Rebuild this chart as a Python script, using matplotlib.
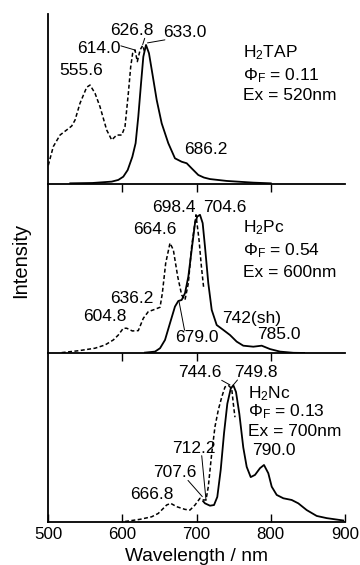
import matplotlib
matplotlib.use('Agg')
import matplotlib.pyplot as plt

plt.rcParams['font.family'] = ['Liberation Sans', 'DejaVu Sans']
plt.rcParams['mathtext.fontset'] = 'custom'
plt.rcParams['mathtext.rm'] = 'Liberation Sans'
plt.rcParams['mathtext.it'] = 'Liberation Sans:italic'

# --- data (wavelength in nm, intensity in arbitrary units) ---
tap_abs_wl = [500.4, 507.1, 516.2, 525.2, 531.9, 536.4, 543.1, 552.1, 556.6, 563.3, 570, 579,
              585.8, 592.5, 599.3, 603.7, 608.2, 611.4, 614, 617.2, 620.3, 624, 627.5, 630]
tap_abs_int = [0.11, 0.22, 0.288, 0.318, 0.341, 0.376, 0.475, 0.569, 0.582, 0.534, 0.455, 0.318,
               0.259, 0.288, 0.288, 0.337, 0.534, 0.69, 0.769, 0.788, 0.72, 0.788, 0.815, 0.78]
tap_em_wl = [530, 560, 585.8, 594.7, 601.4, 607.3, 613.6, 618, 621.6, 625.3, 628.4, 632, 636,
             640.5, 646.4, 653.1, 662, 671, 680, 686.8, 693.5, 702.4, 710, 718.2, 740.7, 776.5, 800]
tap_em_int = [0.004, 0.006, 0.014, 0.024, 0.043, 0.082, 0.16, 0.24, 0.396, 0.592, 0.749, 0.818,
              0.769, 0.651, 0.494, 0.357, 0.24, 0.151, 0.131, 0.122, 0.092, 0.053, 0.038, 0.029,
              0.018, 0.008, 0.004]

pc_abs_wl = [518.4, 540.8, 563.3, 576.8, 588, 594.7, 601.4, 606, 613.6, 621.6, 628.4, 635.1,
             644.1, 650.9, 654, 658.5, 664.3, 668.8, 674.7, 680, 684.5, 689, 693.5, 699.3,
             703.4, 706.6, 709.7]
pc_abs_int = [0.004, 0.015, 0.03, 0.049, 0.079, 0.108, 0.148, 0.148, 0.132, 0.134, 0.207, 0.246,
              0.26, 0.272, 0.355, 0.532, 0.651, 0.611, 0.453, 0.345, 0.315, 0.414, 0.631, 0.818,
              0.67, 0.512, 0.385]
pc_em_wl = [630.6, 644.1, 650.9, 657.6, 664.3, 671, 675.5, 680, 684.5, 689, 693.5, 698, 701.1,
            704.7, 708.3, 711.4, 715.9, 720.5, 727.2, 736.1, 745.1, 754.1, 763, 776.5, 787.8,
            799, 812.5, 830.4, 845]
pc_em_int = [0.004, 0.01, 0.03, 0.079, 0.178, 0.276, 0.309, 0.315, 0.355, 0.453, 0.611, 0.769,
             0.808, 0.818, 0.769, 0.631, 0.414, 0.256, 0.167, 0.138, 0.108, 0.069, 0.045, 0.039,
             0.045, 0.025, 0.01, 0.003, 0.002]

nc_abs_wl = [603.7, 624, 639.6, 648.5, 655.3, 659.8, 665.2, 673.3, 684.5, 691.2, 698, 704.7,
             709.2, 712.8, 715.9, 720.5, 724.9, 729.4, 734, 738.4, 742.8, 747.4, 749.6, 751.8]
nc_abs_int = [0.0, 0.013, 0.028, 0.048, 0.078, 0.098, 0.108, 0.088, 0.072, 0.068, 0.098, 0.138,
              0.128, 0.128, 0.207, 0.405, 0.564, 0.664, 0.74, 0.8, 0.81, 0.79, 0.70, 0.62]
nc_em_wl = [709, 711.4, 718.2, 723.6, 728, 732.6, 737.1, 741.5, 746.1, 749.6, 753.2, 757.7, 763,
            767.6, 773, 778.8, 785.5, 790.9, 796.7, 801.3, 808, 817, 828.2, 837.1, 848.4, 861.9,
            875.4, 897.7]
nc_em_int = [0.12, 0.108, 0.094, 0.098, 0.146, 0.307, 0.526, 0.70, 0.79, 0.81, 0.77, 0.64, 0.44,
             0.325, 0.264, 0.277, 0.317, 0.336, 0.287, 0.207, 0.158, 0.138, 0.128, 0.108, 0.068,
             0.033, 0.02, 0.006]

# peak labels: (text, label x, label y, leader target or None, leader start on the text box)
tap_labels = [('555.6', 515.2, 0.665, None, None),
              ('614.0', 539.5, 0.795, (617.2, 0.788), (1.0, 0.7)),
              ('626.8', 583.5, 0.901, (627.5, 0.82), (0.8, 0.0)),
              ('633.0', 654.5, 0.892, (634.0, 0.83), (0.05, 0.0)),
              ('686.2', 683.2, 0.202, None, None)]
pc_labels = [('698.4', 639.7, 0.863, None, None),
             ('704.6', 708.3, 0.863, None, None),
             ('664.6', 614.9, 0.731, None, None),
             ('636.2', 583.5, 0.322, None, None),
             ('604.8', 547.6, 0.217, None, None),
             ('679.0', 671.0, 0.092, (676.5, 0.305), (0.22, 1.0)),
             ('742(sh)', 733.9, 0.207, None, None),
             ('785.0', 781.0, 0.111, None, None)]
nc_labels = [('744.6', 675.5, 0.884, (745.1, 0.812), (1.0, 0.0)),
             ('749.8', 750.5, 0.886, (749.6, 0.812), (0.08, 0.0)),
             ('790.0', 774.3, 0.42, None, None),
             ('712.2', 666.6, 0.436, (712.8, 0.128), (0.69, 0.0)),
             ('707.6', 641.8, 0.289, (707.8, 0.148), (0.8, 0.0)),
             ('666.8', 610.4, 0.16, None, None)]

info = [('H$_2$TAP', '0.11', '520nm', 763, (0.772, 0.636, 0.519)),
        ('H$_2$Pc', '0.54', '600nm', 762, (0.742, 0.607, 0.479)),
        ('H$_2$Nc', '0.13', '700nm', 770, (0.758, 0.655, 0.537))]

panels = [(tap_abs_wl, tap_abs_int, tap_em_wl, tap_em_int, tap_labels),
          (pc_abs_wl, pc_abs_int, pc_em_wl, pc_em_int, pc_labels),
          (nc_abs_wl, nc_abs_int, nc_em_wl, nc_em_int, nc_labels)]

W, H = 360, 565
fig = plt.figure(figsize=(W / 100, H / 100), dpi=100)

# panel extents in pixels (top, bottom)
rows = [(14, 184), (184, 353.3), (353.3, 521.5)]
fs = 12.5

for i, (aw, ai, ew, ei, labels) in enumerate(panels):
    top, bot = rows[i]
    ax = fig.add_axes([48 / W, (H - bot) / H, 297 / W, (bot - top) / H])
    ax.plot(aw, ai, color='black', lw=1.1, dashes=(2.6, 1.6))
    ax.plot(ew, ei, color='black', lw=1.3)
    ax.set_xlim(500, 900)
    ax.set_ylim(0, 1)
    ax.spines['top'].set_visible(False)
    ax.spines['right'].set_visible(False)
    ax.spines['left'].set_linewidth(1.3)
    ax.spines['bottom'].set_linewidth(1.3)
    ax.set_yticks([])
    ax.patch.set_alpha(0)

    for text, tx, ty, target, rel in labels:
        if target is None:
            ax.text(tx, ty, text, fontsize=fs, ha='left', va='center')
        else:
            ax.annotate(text, xy=target, xytext=(tx, ty), fontsize=fs, ha='left', va='center',
                        arrowprops=dict(arrowstyle='-', lw=0.7, color='black',
                                        shrinkA=0, shrinkB=0, relpos=rel,
                                        patchA=None))

    name, phi, ex, nx, ys = info[i]
    ax.text(nx, ys[0], name, fontsize=fs, ha='left', va='center')
    ax.text(nx, ys[1], 'Φ$_\\mathrm{F}$ = ' + phi, fontsize=fs, ha='left', va='center')
    ax.text(nx, ys[2], 'Ex = ' + ex, fontsize=fs, ha='left', va='center')

    if i < 2:
        ax.set_xticks([600, 700, 800])
        ax.tick_params(axis='x', direction='out', length=5.5, width=1.0, labelbottom=False)
    else:
        ax.set_xticks([500, 600, 700, 800, 900])
        ax.tick_params(axis='x', direction='in', length=5.5, width=1.0, labelsize=12.2, pad=4)
        ax.set_xlabel('Wavelength / nm', fontsize=13.8, labelpad=4)

fig.text(21 / W, (H - 260) / H, 'Intensity', rotation=90, fontsize=14.5, ha='center', va='center')

fig.savefig('out.png', dpi=100)
